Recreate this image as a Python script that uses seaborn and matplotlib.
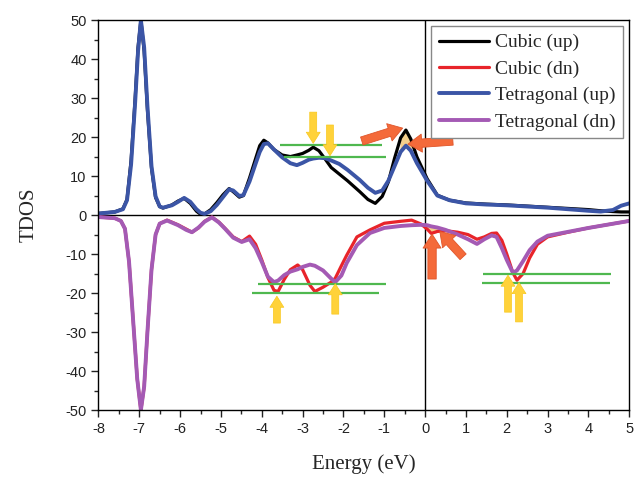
import matplotlib
matplotlib.use("Agg")
import numpy as np
import pandas as pd
import matplotlib.pyplot as plt
import seaborn as sns

# spin-up curves (shared energy grid)
up_x = [-8, -7.6, -7.4, -7.3, -7.2, -7.1, -7.03, -6.96, -6.88, -6.8, -6.7, -6.6, -6.5, -6.42,
        -6.2, -6.05, -5.9, -5.75, -5.6, -5.5, -5.4, -5.25, -5.1, -4.95, -4.8, -4.7, -4.55, -4.45,
        -4.3, -4.15, -4.05, -3.95, -3.85, -3.7, -3.5, -3.3, -3.14, -3.0, -2.85, -2.74, -2.6, -2.45,
        -2.3, -2.1, -1.9, -1.6, -1.4, -1.22, -1.05, -0.9, -0.75, -0.6, -0.47, -0.35, -0.2, 0.05,
        0.3, 0.6, 1.0, 1.5, 2.0, 2.5, 3.0, 3.5, 4.0, 4.3, 4.6, 4.8, 5.0]
cubic_up = [0.4, 0.8, 1.6, 4, 14, 30, 43, 50, 42, 27, 12, 4.5, 2.2, 1.8,
            2.6, 3.6, 4.3, 3.0, 1.0, 0.2, 0.3, 1.4, 3.2, 5.2, 6.8, 6.0, 4.6, 5.0,
            9.5, 14.5, 17.8, 19.2, 18.5, 16.8, 15.4, 15.0, 15.4, 15.8, 16.6, 17.4, 16.5, 14.4,
            12.2, 10.5, 8.8, 6.0, 4.0, 3.0, 4.8, 8.5, 14.5, 19.8, 21.8, 19.5, 14.9, 9.3,
            5.1, 3.8, 3.1, 2.8, 2.6, 2.3, 2.0, 1.7, 1.4, 1.1, 0.9, 0.8, 0.8]
tetra_up = [0.4, 0.8, 1.5, 3.8, 13, 29, 42, 50, 43, 28, 12.5, 4.8, 2.2, 1.9,
            2.5, 3.4, 4.4, 3.4, 1.5, 0.6, 0.3, 1.0, 2.6, 4.6, 6.6, 6.3, 4.9, 5.1,
            8.6, 13.2, 16.2, 18.2, 18.4, 16.8, 14.8, 13.3, 12.8, 13.4, 14.2, 14.5, 14.7, 14.6,
            14.0, 13.1, 11.6, 9.0, 7.0, 5.7, 6.3, 8.8, 12.5, 16.2, 17.8, 16.5, 13.3, 8.8,
            5.0, 3.8, 3.0, 2.7, 2.5, 2.2, 1.9, 1.5, 1.1, 0.9, 1.3, 2.4, 3.0]

# spin-down curves (shared energy grid)
dn_x = [-8, -7.6, -7.45, -7.35, -7.25, -7.15, -7.05, -6.96, -6.88, -6.8, -6.7, -6.6, -6.5,
        -6.32, -6.05, -5.85, -5.71, -5.55, -5.4, -5.22, -5.05, -4.9, -4.7, -4.49, -4.3, -4.15,
        -4.0, -3.85, -3.7, -3.6, -3.45, -3.3, -3.12, -3.0, -2.82, -2.7, -2.5, -2.3, -2.2, -2.05,
        -1.92, -1.67, -1.35, -1.0, -0.6, -0.33, -0.1, 0.05, 0.15, 0.3, 0.5, 0.8, 1.05, 1.27,
        1.45, 1.63, 1.75, 1.88, 2.0, 2.15, 2.25, 2.4, 2.56, 2.75, 3.0, 3.5, 4.0, 4.5, 5.0]
cubic_dn = [-0.5, -0.8, -1.5, -3.5, -12, -27, -42, -50, -44, -30, -14, -5, -2.2,
            -1.3, -2.5, -3.6, -4.4, -3.3, -1.6, -0.5, -1.8, -3.4, -5.6, -6.8, -5.4, -7.5,
            -11.5, -16, -19.3, -19.6, -16.5, -14, -12.8, -14, -18, -19.6, -18.5, -17.2, -16.2, -13,
            -10.3, -5.6, -3.8, -2.1, -1.6, -1.3, -2.3, -3.6, -4.7, -4.2, -4.0, -4.4, -5.0, -6.2,
            -5.6, -4.7, -4.6, -6.5, -10, -14.8, -16.7, -15, -11, -7.5, -5.6, -4.4, -3.3, -2.4, -1.5]
tetra_dn = [-0.5, -0.8, -1.5, -3.5, -12, -27, -42, -50, -44, -30, -14, -5, -2.2,
            -1.4, -2.6, -3.8, -4.4, -3.2, -1.7, -0.6, -1.9, -3.5, -5.8, -6.9, -6.2, -8.5,
            -12, -15.8, -17.2, -16.8, -15.4, -14.5, -13.9, -13.3, -12.7, -13, -14.2, -16.3, -17.2, -15.5,
            -12.3, -7.7, -4.6, -3.3, -2.8, -2.6, -2.5, -2.6, -2.9, -3.2, -3.8, -5.0, -6.2, -7.4,
            -6.2, -5.2, -5.6, -8.5, -11.5, -14.8, -14.2, -11.8, -9, -6.8, -5.3, -4.3, -3.3, -2.4, -1.5]

labels = ["Cubic (up)", "Cubic (dn)", "Tetragonal (up)", "Tetragonal (dn)"]
colors = ["#000000", "#e8242a", "#3b55a6", "#a45ab4"]

# green guide lines: (y, xmin, xmax)
guides = [(18.0, -3.55, -1.05), (14.8, -3.45, -0.95),
          (-17.7, -4.09, -0.96), (-20.0, -4.24, -1.13),
          (-15.1, 1.41, 4.54), (-17.4, 1.40, 4.52)]
# arrows: (tail x, tail y, tip x, tip y)
yellow_arrows = [(-2.74, 26.4, -2.74, 18.4), (-2.33, 23.1, -2.33, 15.2),
                 (-3.63, -27.7, -3.63, -20.8), (-2.20, -25.4, -2.20, -17.6),
                 (2.03, -24.9, 2.03, -15.4), (2.30, -27.4, 2.30, -17.3)]
orange_arrows = [(-1.55, 19.0, -0.55, 22.3), (0.68, 19.0, -0.42, 18.2),
                 (0.17, -16.4, 0.17, -4.9), (0.93, -10.7, 0.36, -4.2)]

df = pd.concat([
    pd.DataFrame({"Energy": up_x, "TDOS": cubic_up, "series": labels[0]}),
    pd.DataFrame({"Energy": dn_x, "TDOS": cubic_dn, "series": labels[1]}),
    pd.DataFrame({"Energy": up_x, "TDOS": tetra_up, "series": labels[2]}),
    pd.DataFrame({"Energy": dn_x, "TDOS": tetra_dn, "series": labels[3]}),
])

sns.set_style("ticks")
plt.rcParams["font.family"] = ["Liberation Sans", "DejaVu Sans"]
plt.rcParams["axes.unicode_minus"] = False

fig = plt.figure(figsize=(6.35, 4.79), dpi=100)
ax = fig.add_axes([0.155, 0.144, 0.836, 0.814])

widths = [2.3, 2.3, 2.8, 2.8]
for lab, col, lw in zip(labels, colors, widths):
    sns.lineplot(data=df[df.series == lab], x="Energy", y="TDOS", color=col,
                 lw=lw, label=lab, ax=ax, estimator=None,
                 solid_joinstyle="round", solid_capstyle="round")

ux = np.array(up_x)
m = (ux >= -0.6) & (ux <= -0.35)
ax.fill_between(ux[m], np.array(tetra_up)[m], np.array(cubic_up)[m], color="#f3cf8c", zorder=1.5)
dx = np.array(dn_x)
m = (dx >= -0.1) & (dx <= 0.3)
ax.fill_between(dx[m], np.array(cubic_dn)[m], np.array(tetra_dn)[m], color="#f3cf8c", zorder=1.5)

ax.axhline(0, color="black", lw=1, zorder=0.5)
ax.axvline(0, color="black", lw=1, zorder=0.5)

for y, x0, x1 in guides:
    ax.hlines(y, x0, x1, color="#4fb84f", lw=1.6, zorder=3)

for x0, y0, x1, y1 in yellow_arrows:
    ax.annotate("", xy=(x1, y1), xytext=(x0, y0),
                arrowprops=dict(arrowstyle="simple,head_width=1.0,head_length=0.8,tail_width=0.5",
                                fc="#ffd23a", ec="#f8c81e", lw=0.5, mutation_scale=10,
                                shrinkA=0, shrinkB=0), zorder=4)
for x0, y0, x1, y1 in orange_arrows:
    ax.annotate("", xy=(x1, y1), xytext=(x0, y0),
                arrowprops=dict(arrowstyle="simple,head_width=1.3,head_length=1.0,tail_width=0.6",
                                fc="#f46a3a", ec="#e0552a", lw=0.6, mutation_scale=10,
                                shrinkA=0, shrinkB=0), zorder=4)

ax.set_xlim(-8, 5)
ax.set_ylim(-50, 50)
ax.set_xticks(range(-8, 6))
ax.set_yticks(range(-50, 51, 10))
ax.set_xticks(np.arange(-7.5, 5, 1.0), minor=True)
ax.set_yticks(np.arange(-45, 50, 10), minor=True)
ax.tick_params(which="major", direction="out", length=5, width=1, labelsize=10.5,
               colors="#222222", top=False, right=False)
ax.tick_params(which="minor", direction="out", length=3, width=1, top=False, right=False)
for s in ax.spines.values():
    s.set_linewidth(1)
    s.set_color("black")

ax.set_xlabel("Energy (eV)", family="Liberation Serif", fontsize=15, labelpad=13)
ax.set_ylabel("TDOS", family="Liberation Serif", fontsize=15, labelpad=19)

ax.legend(loc="upper right", prop={"family": "Liberation Serif", "size": 14},
          frameon=True, fancybox=False, edgecolor="#888888", framealpha=1,
          borderaxespad=0.3, handlelength=2.6, labelspacing=0.45, handletextpad=0.3,
          borderpad=0.4)

fig.savefig("out.png", dpi=100)
